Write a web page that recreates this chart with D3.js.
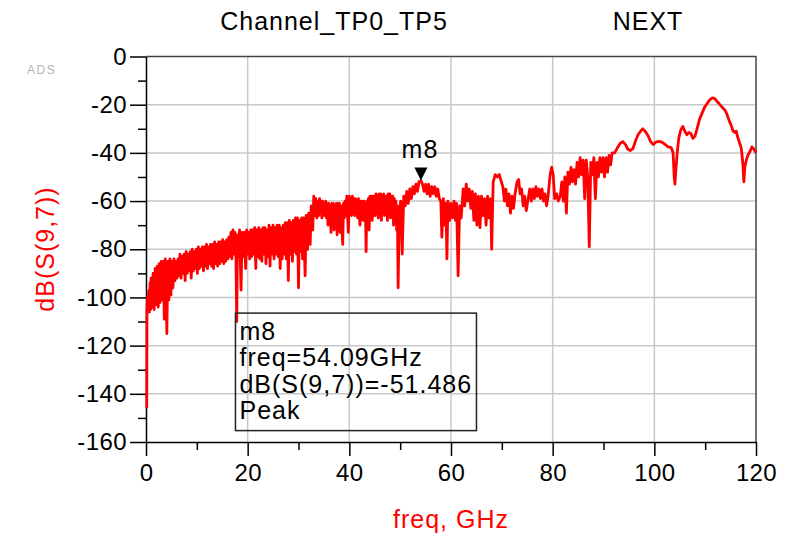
<!DOCTYPE html>
<html>
<head>
<meta charset="utf-8">
<script src="https://cdn.jsdelivr.net/npm/d3@7"></script>
<style>
  body { margin: 0; background: #fff; }
  svg { display: block; font-family: "Liberation Sans", Arial, sans-serif; }
</style>
</head>
<body>
<svg id="chart" width="802" height="537"></svg>
<script>
// [freq GHz, dB(S(9,7))]
const lowBand = [
    [0.15, -146], [0.2, -104], [0.3, -100], [0.4, -106], [0.5, -98], [0.55, -105], [0.6, -97], [0.7, -106],
    [0.8, -94], [0.9, -105], [1.0, -92], [1.2, -104], [1.4, -90], [1.6, -105], [1.8, -88], [2.0, -103],
    [2.2, -87], [2.4, -104], [2.6, -86], [2.8, -102], [3.0, -85], [3.2, -101], [3.4, -85], [3.6, -109],
    [3.8, -84], [4.0, -100], [4.1, -115], [4.3, -85], [4.5, -101], [4.7, -84], [4.9, -99], [5.1, -85],
    [5.3, -96], [5.5, -84], [5.7, -93], [5.9, -85], [6.1, -92], [6.3, -84], [6.5, -91], [6.7, -82],
    [6.9, -92], [7.1, -83], [7.3, -90], [7.5, -82], [7.7, -93], [7.9, -81], [8.1, -90], [8.3, -82],
    [8.5, -89], [8.7, -81], [8.9, -92], [9.1, -80], [9.3, -89], [9.5, -81], [9.7, -88], [9.9, -80],
    [10.1, -90], [10.3, -79], [10.5, -88], [10.7, -80], [10.9, -87], [11.1, -79], [11.3, -89], [11.5, -79],
    [11.7, -87], [11.9, -78], [12.1, -88], [12.3, -79], [12.5, -86], [12.7, -78], [12.9, -87], [13.1, -78],
    [13.3, -88], [13.5, -77], [13.7, -86], [13.9, -78], [14.1, -87], [14.3, -77], [14.5, -86], [14.7, -77],
    [14.9, -85], [15.1, -76], [15.3, -86], [15.5, -77], [15.7, -85], [15.9, -76], [16.1, -84], [16.3, -75],
    [16.5, -83], [16.7, -73], [16.9, -84], [17.1, -72], [17.3, -82], [17.5, -73], [17.7, -84], [17.85, -110],
    [18.0, -74], [18.2, -83], [18.4, -72], [18.7, -97], [18.9, -73]
];

const midBand = [
    [19.1, -83], [19.3, -73], [19.6, -88], [19.8, -72], [20.0, -82], [20.2, -73], [20.4, -84], [20.6, -72],
    [20.8, -83], [21.0, -72], [21.2, -82], [21.4, -71], [21.6, -88], [21.8, -72], [22.0, -83], [22.2, -71],
    [22.4, -84], [22.6, -72], [22.8, -85], [23.0, -71], [23.2, -82], [23.4, -71], [23.6, -86], [23.8, -72],
    [24.0, -83], [24.2, -70], [24.4, -87], [24.6, -71], [24.8, -82], [25.0, -70], [25.2, -84], [25.4, -71],
    [25.6, -82], [25.8, -70], [26.0, -83], [26.2, -70], [26.4, -88], [26.6, -71], [26.8, -84], [27.0, -70],
    [27.2, -82], [27.4, -69], [27.6, -84], [27.8, -69], [28.0, -93], [28.2, -68], [28.4, -82], [28.6, -69],
    [28.8, -85], [29.0, -68], [29.2, -81], [29.4, -67], [29.6, -82], [29.8, -67], [30.0, -96], [30.2, -68],
    [30.4, -81], [30.6, -67], [30.8, -84], [31.0, -67], [31.3, -91], [31.5, -66], [31.8, -80], [32.0, -65],
    [32.3, -78], [32.5, -62], [32.8, -72], [33.0, -58], [33.2, -66], [33.4, -59], [33.6, -67], [33.8, -60],
    [34.0, -66], [34.15, -59], [34.3, -65], [34.45, -60], [34.6, -67], [34.75, -60], [34.9, -66], [35.05, -61],
    [35.2, -66], [35.35, -60], [35.5, -67], [35.65, -61], [35.8, -70], [35.95, -61], [36.1, -68], [36.25, -62],
    [36.4, -73], [36.55, -61], [36.7, -70], [36.85, -61], [37.0, -72], [37.15, -62], [37.3, -70], [37.45, -61],
    [37.6, -74], [37.75, -61], [37.9, -70], [38.05, -61], [38.2, -73], [38.35, -62], [38.5, -70], [38.7, -78],
    [38.85, -61], [39.0, -67], [39.15, -60], [39.3, -66], [39.5, -58], [39.65, -66], [39.8, -73], [40.0, -58],
    [40.15, -65], [40.3, -59], [40.45, -66], [40.6, -58], [40.75, -65], [40.9, -59], [41.05, -66], [41.2, -59],
    [41.35, -66], [41.5, -60], [41.65, -67], [41.8, -59], [41.95, -66], [42.1, -70], [42.25, -60], [42.4, -67],
    [42.55, -60], [42.7, -68], [42.85, -60], [43.0, -67], [43.15, -61], [43.3, -81], [43.45, -60], [43.6, -67],
    [43.75, -59], [43.9, -72], [44.05, -58], [44.2, -66], [44.35, -58], [44.5, -68], [44.65, -58], [44.8, -66],
    [44.95, -58], [45.1, -66], [45.25, -57], [45.4, -65], [45.55, -58], [45.7, -67], [45.85, -57], [46.0, -65],
    [46.15, -57], [46.3, -68], [46.45, -58], [46.6, -65], [46.75, -57], [46.9, -66], [47.05, -58], [47.2, -65],
    [47.35, -58], [47.5, -68], [47.65, -57], [47.8, -65], [47.95, -57], [48.1, -67], [48.25, -58], [48.4, -66],
    [48.55, -58], [48.7, -70], [48.85, -59], [49.0, -67], [49.15, -60], [49.3, -72], [49.45, -62], [49.6, -96],
    [49.8, -66], [50.1, -60], [50.4, -82], [50.7, -58], [51.0, -62]
];

const peakBand = [
    [51.3, -56], [51.6, -61], [51.9, -55], [52.2, -59], [52.5, -54], [52.8, -57], [53.1, -53], [53.4, -56],
    [53.7, -52], [54.09, -51.5], [54.4, -53], [54.7, -56], [55.0, -53], [55.3, -57], [55.6, -53], [55.9, -58],
    [56.2, -54], [56.5, -57], [56.8, -54], [57.1, -58], [57.4, -55], [57.7, -59], [58.0, -60], [58.2, -75],
    [58.5, -59], [58.8, -70], [59.0, -61], [59.2, -84], [59.4, -60], [59.7, -68], [60.0, -61], [60.3, -67],
    [60.6, -60], [60.9, -68], [61.1, -61], [61.4, -91], [61.7, -62], [62.0, -67], [62.4, -55], [62.7, -62],
    [63.0, -53], [63.3, -60], [63.6, -55], [63.9, -63], [64.2, -56], [64.5, -68], [64.8, -57], [65.1, -70],
    [65.4, -58], [65.7, -71], [66.0, -58], [66.3, -66], [66.6, -59], [66.9, -70], [67.2, -58], [67.5, -67],
    [67.8, -59], [68.0, -80]
];

const highBand = [
    [68.3, -52], [68.7, -49], [69.1, -50], [69.5, -49], [69.9, -52], [70.2, -54], [70.5, -60], [70.8, -55],
    [71.1, -62], [71.4, -57], [71.7, -65], [72.0, -58], [72.3, -63], [72.6, -57], [73.0, -52], [73.3, -51],
    [73.6, -57], [73.9, -55], [74.2, -62], [74.5, -58], [74.8, -64], [75.1, -60], [75.5, -55], [75.8, -60],
    [76.1, -55], [76.4, -59], [76.7, -54], [77.0, -58], [77.3, -55], [77.6, -59], [77.9, -55], [78.2, -60],
    [78.5, -57], [78.8, -62], [79.1, -58], [79.5, -49], [79.8, -46], [80.1, -49], [80.4, -59], [80.8, -57],
    [81.1, -60], [81.5, -58], [81.8, -52], [82.1, -60], [82.4, -50], [82.7, -65], [83.0, -48], [83.3, -53],
    [83.6, -46], [83.9, -52], [84.2, -47], [84.5, -53], [84.8, -44], [85.1, -50], [85.4, -42], [85.7, -49],
    [86.0, -43], [86.3, -59], [86.6, -43], [86.9, -50], [87.2, -79], [87.5, -44], [87.8, -49], [88.1, -42],
    [88.4, -59], [88.7, -44], [89.0, -50], [89.3, -42], [89.6, -48], [89.9, -42]
];

const topBand = [
    [90.2, -50], [90.5, -42], [90.8, -48], [91.1, -41], [91.4, -45], [91.7, -40], [92.2, -40], [92.7, -38],
    [93.3, -36], [93.8, -35.3], [94.3, -36.5], [94.8, -38.5], [95.3, -39], [95.8, -38.2], [96.3, -35], [96.8, -32.5],
    [97.3, -31], [97.7, -30], [98.2, -31], [98.8, -33], [99.3, -35.5], [99.8, -36.5], [100.3, -35.5], [100.9, -35.2],
    [101.5, -35.5], [102.1, -36.5], [102.7, -37.5], [103.3, -37.8], [103.7, -40], [103.9, -50], [104.05, -53], [104.2, -48],
    [104.5, -40], [104.8, -34], [105.2, -30.5], [105.6, -29], [106.0, -31], [106.4, -32.5], [106.8, -31.5], [107.2, -32],
    [107.6, -34], [108.0, -33], [108.4, -30], [108.9, -26], [109.4, -23.5], [109.9, -21], [110.4, -19.5], [110.9, -18],
    [111.4, -17.2], [111.9, -17.5], [112.4, -18.8], [112.9, -20], [113.4, -21.2], [113.9, -22.3], [114.3, -24], [114.7, -26.5],
    [115.1, -28.5], [115.5, -31], [115.8, -31.5], [116.1, -31], [116.4, -33.5], [116.8, -36], [117.1, -38], [117.4, -44],
    [117.6, -52], [117.8, -46], [118.1, -43], [118.4, -41], [118.8, -39.5], [119.2, -37.5], [119.6, -38.5], [120, -40]
];

const xTicks = [0, 20, 40, 60, 80, 100, 120];
const xMinor = [10, 30, 50, 70, 90, 110];
const yTicks = [0, -20, -40, -60, -80, -100, -120, -140, -160];
const yMinor = [-10, -30, -50, -70, -90, -110, -130, -150];

const marker = { name: 'm8', freq: 54.09, db: -51.486, kind: 'Peak' };

const plot = { left: 146, right: 756, top: 56.5, bottom: 442 };
const red = '#ff0000';

const svg = d3.select('#chart');

const x = d3.scaleLinear().domain([0, 120]).range([plot.left, plot.right]);
const y = d3.scaleLinear().domain([-160, 0]).range([plot.bottom, plot.top]);

// сетка
const grid = svg.append('g').attr('stroke', '#c8c8c8').attr('stroke-width', 1.5);
grid.selectAll('.gx')
    .data(xTicks.slice(1, -1))
    .enter()
    .append('line')
    .attr('x1', d => x(d))
    .attr('x2', d => x(d))
    .attr('y1', plot.top)
    .attr('y2', plot.bottom);
grid.selectAll('.gy')
    .data(yTicks.slice(1, -1))
    .enter()
    .append('line')
    .attr('x1', plot.left)
    .attr('x2', plot.right)
    .attr('y1', d => y(d))
    .attr('y2', d => y(d));

// рамка сверху и справа
svg.append('path')
    .attr('d', `M${plot.left},${plot.top}H${plot.right}V${plot.bottom}`)
    .attr('fill', 'none')
    .attr('stroke', '#444')
    .attr('stroke-width', 1.5);

function styleAxis(g, size) {
    g.attr('font-family', null);
    g.select('.domain').attr('stroke', '#000').attr('stroke-width', 1.5);
    g.selectAll('.tick line').attr('stroke', '#000').attr('stroke-width', 1.5);
    g.selectAll('.tick text')
        .attr('fill', '#000')
        .style('font-size', size)
        .style('letter-spacing', '0.4px');
}

function minorTicks(g) {
    g.select('.domain').remove();
    g.selectAll('.tick line').attr('stroke', '#000').attr('stroke-width', 1.5);
}

const fmt = d => String(d);

svg.append('g')
    .attr('transform', `translate(${plot.left},0)`)
    .call(d3.axisLeft(y).tickValues(yTicks).tickFormat(fmt).tickSize(16).tickSizeOuter(0).tickPadding(3))
    .call(styleAxis, '24px');

svg.append('g')
    .attr('transform', `translate(${plot.left},0)`)
    .call(d3.axisLeft(y).tickValues(yMinor).tickFormat('').tickSize(8))
    .call(minorTicks);

svg.append('g')
    .attr('transform', `translate(0,${plot.bottom})`)
    .call(d3.axisBottom(x).tickValues(xTicks).tickFormat(fmt).tickSize(14).tickSizeOuter(0).tickPadding(8))
    .call(styleAxis, '24px');

svg.append('g')
    .attr('transform', `translate(0,${plot.bottom})`)
    .call(d3.axisBottom(x).tickValues(xMinor).tickFormat('').tickSize(8))
    .call(minorTicks);

// кривая (поверх оси, как в ADS)
const trace = lowBand.concat(midBand, peakBand, highBand, topBand);
svg.append('path')
    .datum(trace)
    .attr('fill', 'none')
    .attr('stroke', red)
    .attr('stroke-width', 2.8)
    .attr('stroke-linejoin', 'round')
    .attr('d', d3.line().x(d => x(d[0])).y(d => y(d[1])));

// заголовки
function label(tx, ty, str, color) {
    return svg.append('text')
        .attr('x', tx).attr('y', ty)
        .attr('text-anchor', 'middle')
        .attr('fill', color || '#000')
        .style('font-size', '25px')
        .style('letter-spacing', '1px')
        .text(str);
}
label(334, 30, 'Channel_TP0_TP5');
label(648, 30, 'NEXT');
svg.append('text')
    .attr('x', 27).attr('y', 74)
    .attr('fill', '#b4b4b4')
    .style('font-size', '12px')
    .style('letter-spacing', '1.5px')
    .text('ADS');

// подписи осей
label(0, 0, 'dB(S(9,7))', red)
    .attr('x', null).attr('y', null)
    .attr('transform', 'translate(54,249) rotate(-90)');
label(451, 528, 'freq, GHz', red);

// маркер m8
const mx = x(marker.freq);
const my = y(marker.db);
svg.append('path')
    .attr('d', `M${mx},${my}L${mx - 6.5},${my - 13}L${mx + 6.5},${my - 13}Z`)
    .attr('fill', '#000');
label(mx - 1, my - 23, marker.name);

// таблица маркера
const box = { x: x(17.6), y: y(-106.5), w: 241, h: 117.5 };
svg.append('rect')
    .attr('x', box.x).attr('y', box.y)
    .attr('width', box.w).attr('height', box.h)
    .attr('fill', 'none')
    .attr('stroke', '#222')
    .attr('stroke-width', 1.5);
const lines = [
    marker.name,
    `freq=${marker.freq.toFixed(2)}GHz`,
    `dB(S(9,7))=${marker.db.toFixed(3)}`,
    marker.kind
];
svg.append('g')
    .selectAll('text')
    .data(lines)
    .enter()
    .append('text')
    .attr('x', box.x + 4)
    .attr('y', (d, i) => box.y + 26.5 + i * 26.5)
    .style('font-size', '25px')
    .style('letter-spacing', '1px')
    .text(d => d);
</script>
</body>
</html>
